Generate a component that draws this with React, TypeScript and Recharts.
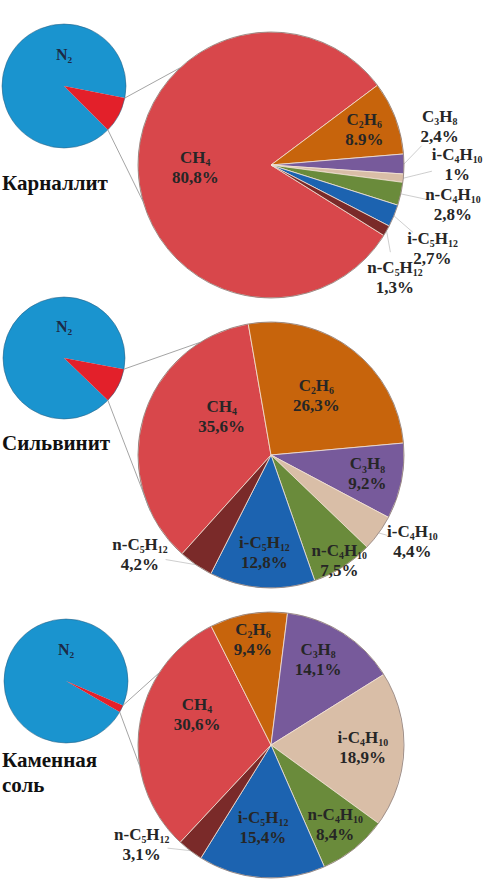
import React from "react";
import { PieChart, Pie, Cell } from "recharts";

// hydrocarbon fractions, % of the sum
const gases = ["CH4", "C2H6", "C3H8", "i-C4H10", "n-C4H10", "i-C5H12", "n-C5H12"];
const gasColors = ["#d8474b", "#c7640c", "#775a9b", "#d9bea7", "#6a8b3b", "#1c63b0", "#7a2a29"];

const carnalliteValues = [80.8, 8.9, 2.4, 1, 2.8, 2.7, 1.3];
const carnalliteLabels = ["80,8%", "8.9%", "2,4%", "1%", "2,8%", "2,7%", "1,3%"];
const sylviniteValues = [35.6, 26.3, 9.2, 4.4, 7.5, 12.8, 4.2];
const sylviniteLabels = ["35,6%", "26,3%", "9,2%", "4,4%", "7,5%", "12,8%", "4,2%"];
const rockSaltValues = [30.6, 9.4, 14.1, 18.9, 8.4, 15.4, 3.1];
const rockSaltLabels = ["30,6%", "9,4%", "14,1%", "18,9%", "8,4%", "15,4%", "3,1%"];

// nitrogen vs hydrocarbons (estimated from the small pies)
const totalParts = ["N2", "HC"];
const totalColors = ["#1a94cf", "#e3202a"];
const carnalliteTotal = [90.6, 9.4];
const sylviniteTotal = [90.7, 9.3];
const rockSaltTotal = [98.1, 1.9];

const FONT = '"Liberation Serif", "Times New Roman", serif';
const RAD = Math.PI / 180;
const W = 488;
const H = 880;
const LABEL_SIZE = 17;

type Spot = { r: number; a?: number; out?: boolean };

const panels = [
  {
    title: ["Карналлит"],
    titleY: 190,
    values: carnalliteValues,
    labels: carnalliteLabels,
    total: carnalliteTotal,
    small: { cx: 64, cy: 86, r: 62, start: 315 },
    big: { cx: 271, cy: 165, r: 133, start: 328 },
    links: [133, 196],
    spots: {
      CH4: { r: 0.57 },
      C2H6: { r: 0.75 },
      C3H8: { a: 12.7, r: 1.3, out: true },
      "i-C4H10": { a: 0, r: 1.4, out: true },
      "n-C4H10": { a: -12.4, r: 1.4, out: true },
      "i-C5H12": { a: -27.6, r: 1.37, out: true },
      "n-C5H12": { a: -42.3, r: 1.26, out: true },
    } as Record<string, Spot>,
  },
  {
    title: ["Сильвинит"],
    titleY: 450,
    values: sylviniteValues,
    labels: sylviniteLabels,
    total: sylviniteTotal,
    small: { cx: 64, cy: 358, r: 61, start: 316 },
    big: { cx: 271, cy: 455, r: 133, start: 228 },
    links: [122, 205],
    spots: {
      CH4: { a: 142, r: 0.47 },
      C2H6: { r: 0.56 },
      C3H8: { r: 0.74 },
      "i-C4H10": { a: -31.7, r: 1.25, out: true },
      "n-C4H10": { r: 0.95 },
      "i-C5H12": { r: 0.74 },
      "n-C5H12": { a: 217.4, r: 1.24, out: true },
    } as Record<string, Spot>,
  },
  {
    title: ["Каменная", "соль"],
    titleY: 767,
    values: rockSaltValues,
    labels: rockSaltLabels,
    total: rockSaltTotal,
    small: { cx: 66, cy: 681, r: 62, start: 330 },
    big: { cx: 271, cy: 745, r: 133, start: 227 },
    links: [147, 189],
    spots: {
      CH4: { a: 158, r: 0.6 },
      C2H6: { r: 0.8 },
      C3H8: { a: 61, r: 0.73 },
      "i-C4H10": { r: 0.69 },
      "n-C4H10": { r: 0.77 },
      "i-C5H12": { a: -95.5, r: 0.63 },
      "n-C5H12": { a: 217.8, r: 1.23, out: true },
    } as Record<string, Spot>,
  },
];

const polar = (cx: number, cy: number, r: number, a: number) => ({
  x: cx + r * Math.cos(-a * RAD),
  y: cy + r * Math.sin(-a * RAD),
});

// formula with subscript digits, e.g. i-C4H10
function formulaSpans(text: string, size: number) {
  const parts = text.match(/\d+|\D+/g) || [];
  let sub = false;
  return parts.map((p, i) => {
    const isNum = /\d/.test(p);
    let dy = 0;
    if (isNum && !sub) dy = size * 0.18;
    if (!isNum && sub) dy = -size * 0.18;
    sub = isNum;
    return (
      <tspan key={i} dy={dy} fontSize={isNum ? size * 0.58 : size}>
        {p}
      </tspan>
    );
  });
}

function makeGasLabel(panel: (typeof panels)[number]) {
  return (props: any) => {
    const { cx, cy, midAngle, outerRadius, index } = props;
    const name = gases[index];
    const spot = panel.spots[name];
    const ang = spot.a ?? midAngle;
    const p = polar(cx, cy, outerRadius * spot.r, ang);
    let line = null;
    if (spot.out) {
      const e = polar(cx, cy, outerRadius, midAngle);
      const dx = p.x - e.x;
      const dy = p.y - e.y;
      const d = Math.hypot(dx, dy);
      const end = { x: p.x - (dx / d) * 26, y: p.y - (dy / d) * 26 };
      line = <line x1={e.x} y1={e.y} x2={end.x} y2={end.y} stroke="#c8c8c8" strokeWidth={0.9} />;
    }
    return (
      <g key={`lbl-${index}`}>
        {line}
        <text
          x={p.x}
          y={p.y - 5}
          textAnchor="middle"
          fontFamily={FONT}
          fontWeight="bold"
          fontSize={LABEL_SIZE}
          fill="#262626"
        >
          {formulaSpans(name, LABEL_SIZE)}
        </text>
        <text
          x={p.x}
          y={p.y + 15}
          textAnchor="middle"
          fontFamily={FONT}
          fontWeight="bold"
          fontSize={LABEL_SIZE}
          fill="#262626"
        >
          {panel.labels[index]}
        </text>
      </g>
    );
  };
}

function makeTotalLabel() {
  return (props: any) => {
    const { cx, cy, outerRadius, index } = props;
    if (index !== 0) return <g key={`t-${index}`} />;
    return (
      <text
        key={`t-${index}`}
        x={cx}
        y={cy - outerRadius * 0.42}
        textAnchor="middle"
        fontFamily={FONT}
        fontWeight="bold"
        fontSize={16}
        fill="#1d2a44"
      >
        {formulaSpans(totalParts[0], 16)}
      </text>
    );
  };
}

export default function App() {
  return (
    <div style={{ position: "absolute", left: 0, top: 0, width: W, height: H, background: "#fff" }}>
      <PieChart width={W} height={H} margin={{ top: 0, right: 0, bottom: 0, left: 0 }}>
        {panels.map((panel, pi) => {
          const total = totalParts.map((n, i) => ({ name: n, value: panel.total[i] }));
          const data = gases.map((n, i) => ({ name: n, value: panel.values[i] }));
          return [
            <Pie
              key={`s${pi}`}
              data={total}
              dataKey="value"
              cx={panel.small.cx}
              cy={panel.small.cy}
              outerRadius={panel.small.r}
              startAngle={panel.small.start}
              endAngle={panel.small.start - 360}
              isAnimationActive={false}
              label={makeTotalLabel()}
              labelLine={false}
              stroke="none"
            >
              {total.map((d, i) => (
                <Cell key={d.name} fill={totalColors[i]} />
              ))}
            </Pie>,
            <Pie
              key={`b${pi}`}
              data={data}
              dataKey="value"
              cx={panel.big.cx}
              cy={panel.big.cy}
              outerRadius={panel.big.r}
              startAngle={panel.big.start}
              endAngle={panel.big.start - 360}
              isAnimationActive={false}
              label={makeGasLabel(panel)}
              labelLine={false}
              stroke="#f3e2d6"
              strokeWidth={0.8}
            >
              {data.map((d, i) => (
                <Cell key={d.name} fill={gasColors[i]} />
              ))}
            </Pie>,
          ];
        })}
      </PieChart>
      <svg
        width={W}
        height={H}
        style={{ position: "absolute", left: 0, top: 0, pointerEvents: "none" }}
      >
        {panels.map((panel, pi) => {
          const { small, big } = panel;
          const n2Sweep = (panel.total[0] / (panel.total[0] + panel.total[1])) * 360;
          const hcStart = small.start - n2Sweep;
          const hcEnd = small.start - 360;
          const a1 = polar(small.cx, small.cy, small.r, hcStart);
          const a2 = polar(small.cx, small.cy, small.r, hcEnd);
          const b1 = polar(big.cx, big.cy, big.r, panel.links[0]);
          const b2 = polar(big.cx, big.cy, big.r, panel.links[1]);
          return (
            <g key={pi}>
              <circle cx={small.cx} cy={small.cy} r={small.r} fill="none" stroke="#2b5f80" strokeOpacity={0.6} strokeWidth={0.9} />
              <circle cx={big.cx} cy={big.cy} r={big.r} fill="none" stroke="#5a4a4a" strokeOpacity={0.6} strokeWidth={0.9} />
              <line x1={a1.x} y1={a1.y} x2={b1.x} y2={b1.y} stroke="#9a9a9a" strokeWidth={0.9} />
              <line x1={a2.x} y1={a2.y} x2={b2.x} y2={b2.y} stroke="#9a9a9a" strokeWidth={0.9} />
              {panel.title.map((t, ti) => (
                <text
                  key={ti}
                  x={2}
                  y={panel.titleY + ti * 25}
                  fontFamily={FONT}
                  fontWeight="bold"
                  fontSize={21}
                  fill="#111"
                >
                  {t}
                </text>
              ))}
            </g>
          );
        })}
      </svg>
    </div>
  );
}
